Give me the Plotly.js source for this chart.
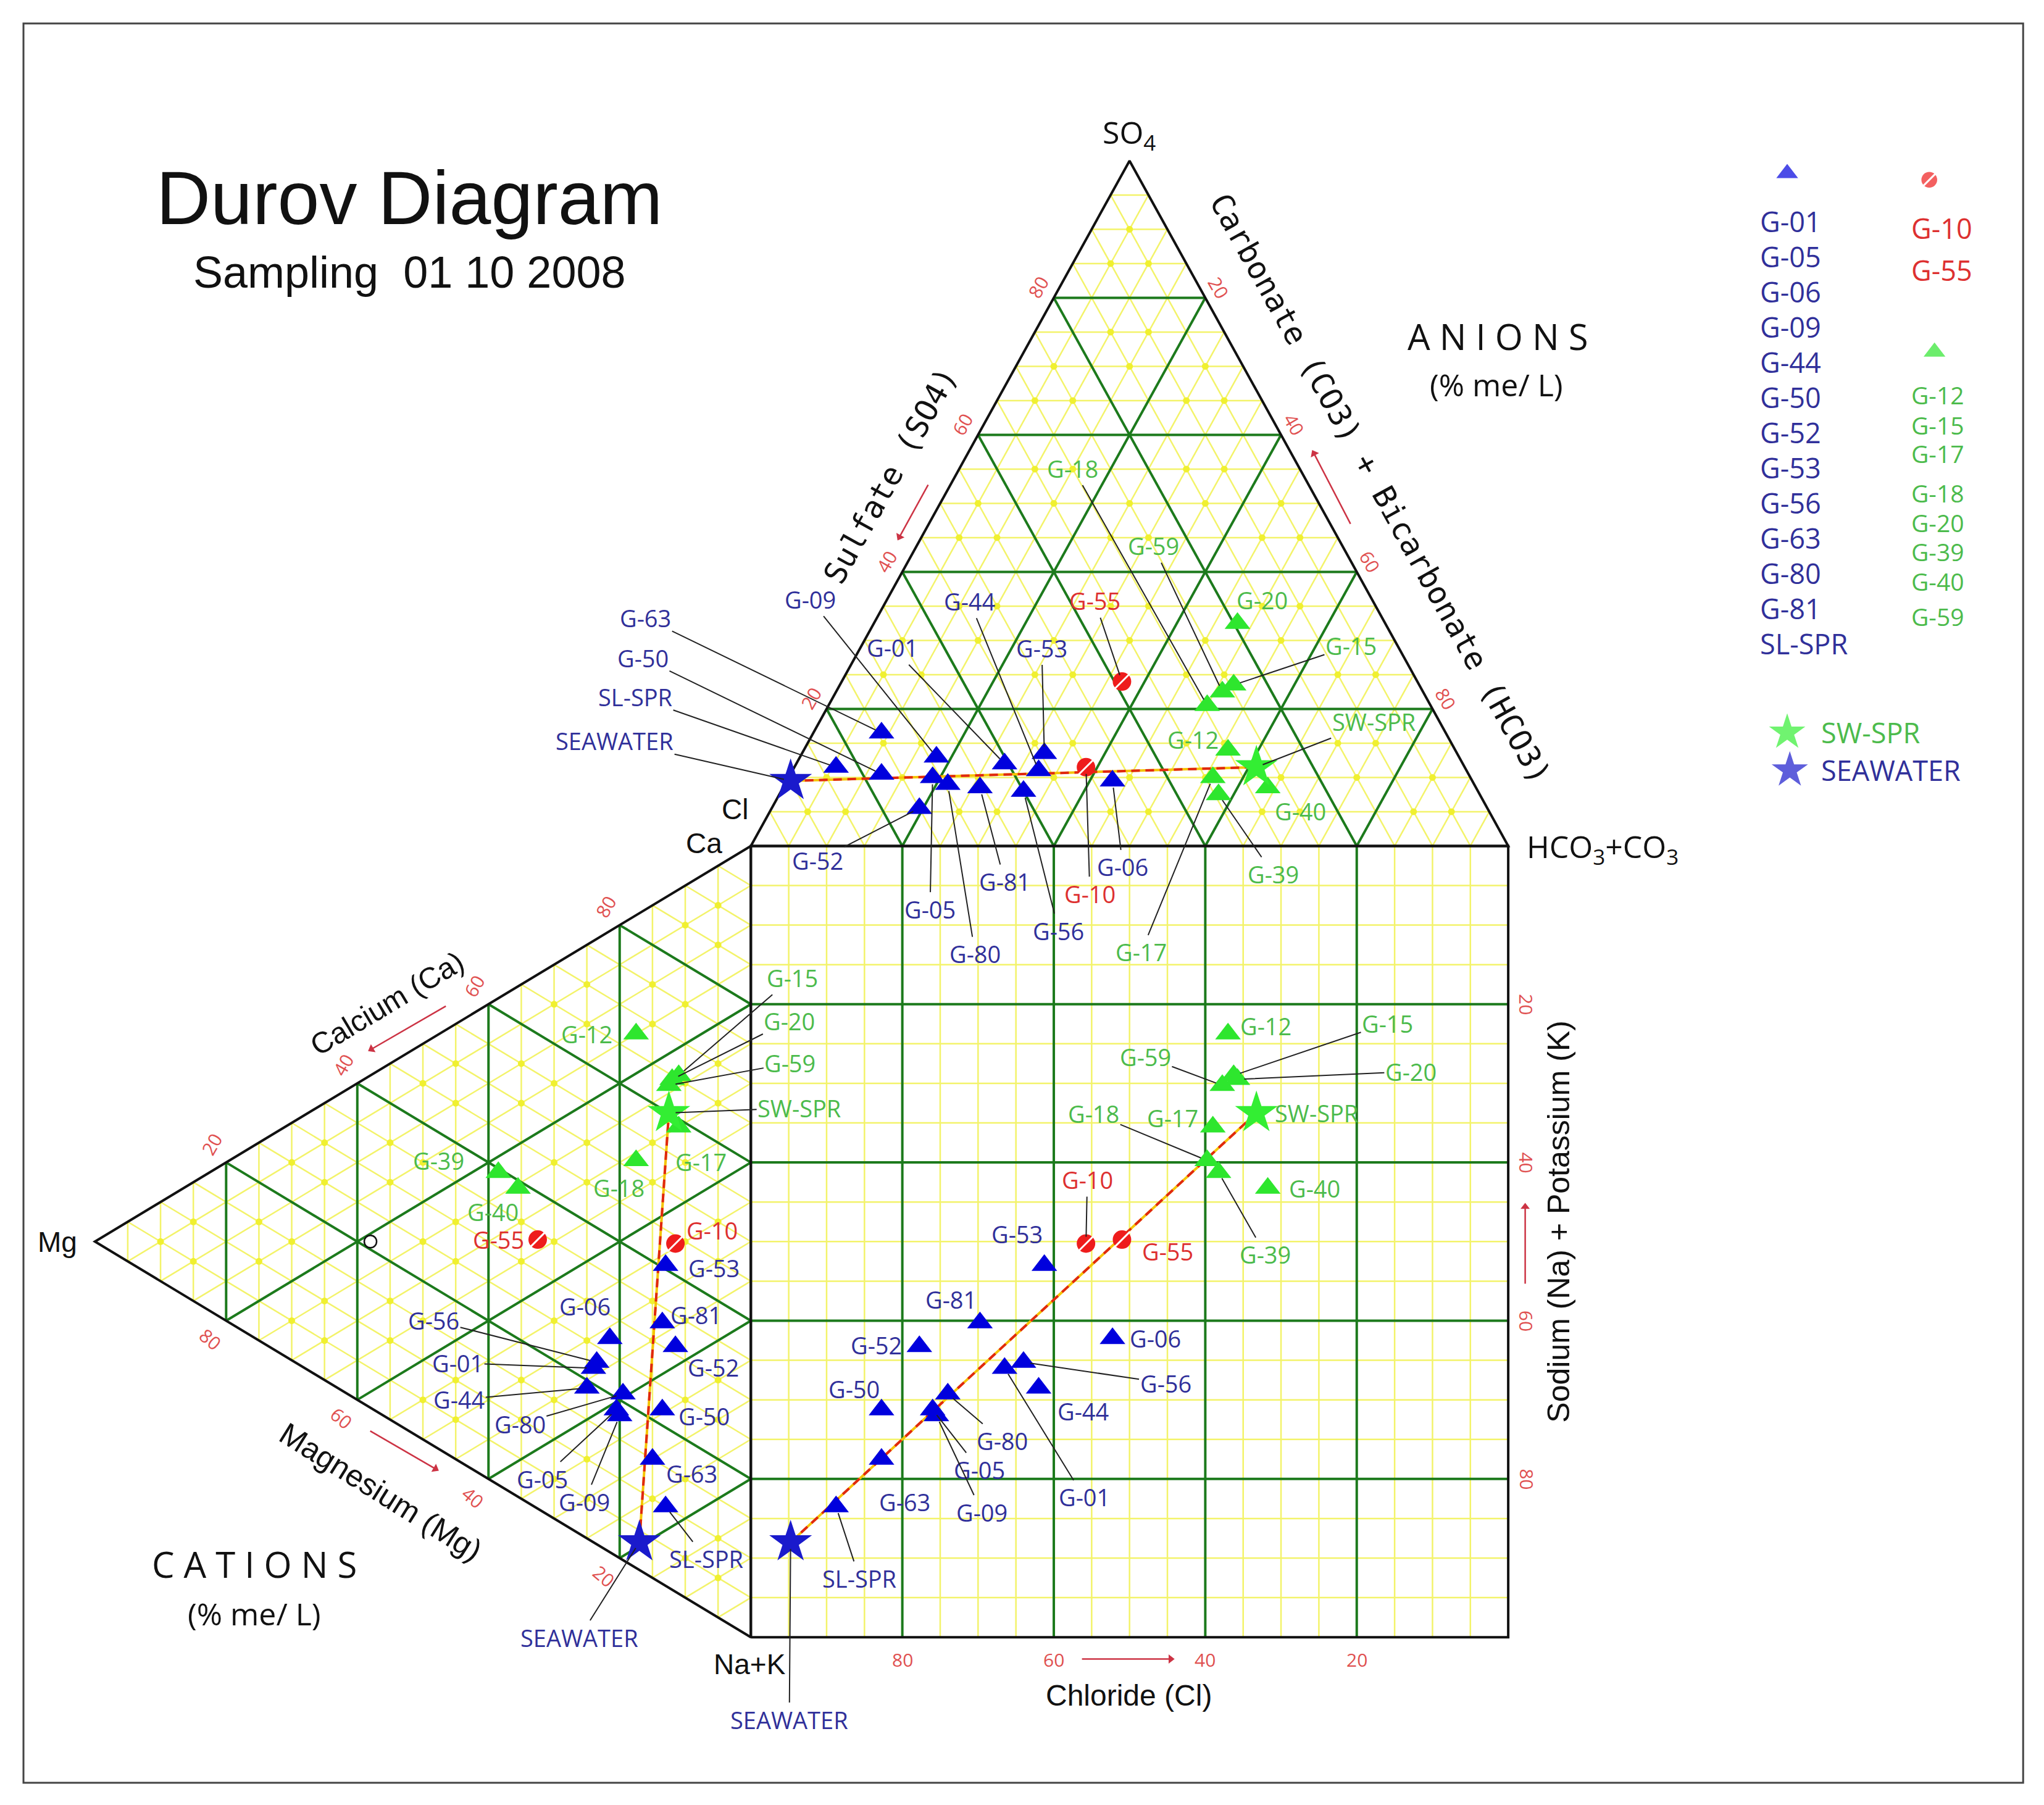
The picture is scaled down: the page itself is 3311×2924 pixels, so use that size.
<!DOCTYPE html>
<html>
<head>
<meta charset="utf-8">
<script src="https://cdn.plot.ly/plotly-3.0.1.min.js"></script>
<style>html,body{margin:0;padding:0;background:#fff}</style>
</head>
<body>
<div id="chart" style="width:3311px;height:2924px"></div>
<script>
// samples, sampling 01 10 2008 (% me/L)
const samples = ['G-01','G-05','G-06','G-09','G-44','G-50','G-52','G-53','G-56','G-63','G-80','G-81','SL-SPR',
                 'G-10','G-55',
                 'G-12','G-15','G-17','G-18','G-20','G-39','G-40','G-59',
                 'SW-SPR','SEAWATER'];
const groups = ['blue','blue','blue','blue','blue','blue','blue','blue','blue','blue','blue','blue','blue',
                'red','red',
                'green','green','green','green','green','green','green','green',
                'swspr','seawater'];

// anions
const clPct   = [60.5, 71, 47.5, 69, 56.5, 77.5, 75, 54.5, 60, 74.5, 69.5, 65.5, 83,   50, 39,   30, 24.5, 34, 29.5, 19.5, 34.5, 27.5, 26.5,   27.5, 90];
const so4Pct  = [12, 10, 9.5, 13, 11, 10.5, 5.5, 13.5, 8, 16.5, 9, 8.5, 11.5,   11.5, 24,   14, 23.5, 10, 20.5, 32.5, 7.5, 8.5, 22.5,   11.5, 9.5];
const hco3Pct = [27.5, 19, 43, 18, 32.5, 12, 19.5, 32, 32, 9, 21.5, 26, 5.5,   38.5, 37,   56, 52, 56, 50, 48, 58, 64, 51,   61, 0.5];

// cations
const caPct  = [22, 18.5, 27, 18, 19, 22, 31, 40.5, 23, 15, 21, 33, 10,   44, 34,   67.5, 65.5, 59, 51.5, 64.5, 39.5, 39, 63.5,   60, 3.5];
const mgPct  = [24, 20.5, 21.5, 20, 25, 13.5, 11.5, 13, 23.5, 15, 19.5, 13.5, 13,   11.5, 32.5,   17.5, 11, 11, 17.5, 12, 38.5, 35.5, 12.5,   12.5, 17];
const nakPct = [54, 61, 51.5, 62, 56, 64.5, 57.5, 46.5, 53.5, 70, 59.5, 53.5, 77,   44.5, 33.5,   15, 23.5, 30, 31, 23.5, 22, 25.5, 24,   27.5, 79.5];

// unlabelled open point in the cation triangle
const extraCa = [21], extraMg = [58], extraNaK = [21];

const tickVals = [20, 40, 60, 80];

// label placement: [dx, dy, leader] in reference px (1568 wide), relative to the point
const labelPos = {
  anion: {
    'G-63':[-181,-88,1], 'G-50':[-183,-89,1], 'SL-SPR':[-154,-54,1], 'SEAWATER':[-135,-31,1],
    'G-09':[-97,-121,1], 'G-01':[-86,-89,1], 'G-44':[-53,-130,1], 'G-53':[-2,-81,1], 'G-55':[-21,-62,1],
    'G-52':[-78,40,1], 'G-05':[-2,101,1], 'G-81':[19,72,1], 'G-80':[21,130,1], 'G-56':[27,107,1],
    'G-10':[3,97,1], 'G-06':[8,66,1], 'G-18':[-103,-182,1], 'G-59':[-53,-112,1], 'G-20':[19,-18,0],
    'G-15':[90,-30,1], 'SW-SPR':[90,-35,1], 'G-12':[-27,-8,0], 'G-40':[25,18,0], 'G-39':[42,61,1], 'G-17':[-55,134,1]
  },
  square: {
    'G-12':[29,-6,0], 'G-15':[118,-40,1], 'G-59':[-59,-22,1], 'G-20':[133,-6,1], 'SW-SPR':[46,0,0],
    'G-18':[-87,-36,1], 'G-17':[-31,-7,0], 'G-40':[36,0,0], 'G-39':[36,63,1], 'G-10':[1,-49,1],
    'G-55':[35,9,0], 'G-53':[-21,-24,0], 'G-81':[-22,-18,0], 'G-06':[33,0,0], 'G-52':[-33,-1,0],
    'G-56':[109,16,1], 'G-50':[-21,-16,0], 'G-44':[34,18,0], 'G-80':[42,36,1], 'G-05':[36,46,1],
    'G-09':[35,74,1], 'G-63':[18,33,0], 'G-01':[61,99,1], 'SL-SPR':[18,55,1], 'SEAWATER':[-1,136,1]
  },
  cation: {
    'G-15':[87,-75,1], 'G-20':[90,-45,1], 'G-59':[93,-17,1], 'SW-SPR':[100,-4,1], 'G-12':[-38,0,0],
    'G-17':[17,27,0], 'G-39':[-46,-9,0], 'G-40':[-19,18,0], 'G-18':[-13,21,0], 'G-55':[-30,0,0],
    'G-10':[28,-10,0], 'G-53':[37,2,0], 'G-06':[-19,-25,0], 'G-81':[26,-6,0], 'G-52':[29,16,0],
    'G-56':[-125,-32,1], 'G-01':[-104,-4,1], 'G-44':[-98,9,1], 'G-80':[-79,23,1], 'G-50':[32,5,0],
    'G-05':[-57,53,1], 'G-09':[-27,66,1], 'G-63':[30,11,0], 'SL-SPR':[31,40,1], 'SEAWATER':[-46,73,1]
  }
};

const groupStyle = {
  blue:     {symbol: 'triangle-up', color: '#0000dd', size: 36, text: '#30309a'},
  red:      {symbol: 'circle',      color: '#ee1c1c', size: 30, text: '#dd3030'},
  green:    {symbol: 'triangle-up', color: '#2ee62e', size: 36, text: '#4cbb4c'},
  swspr:    {symbol: 'star',        color: '#33ee33', size: 52, text: '#4cbb4c'},
  seawater: {symbol: 'star',        color: '#1a1acc', size: 52, text: '#30309a'}
};

const S = 2.1116;                 // reference px -> page px
const H = Math.sqrt(3) / 2;
const anionXY = (cl, so4, hco3) => [hco3 + so4 / 2, 100 + so4 * H];
const cationXY = (ca, mg, nak) => [-mg * H, ca + mg / 2];
const squareXY = i => [hco3Pct[i] + so4Pct[i] / 2, caPct[i] + mgPct[i] / 2];
const fieldXY = {
  anion: i => anionXY(clPct[i], so4Pct[i], hco3Pct[i]),
  square: squareXY,
  cation: i => cationXY(caPct[i], mgPct[i], nakPct[i])
};

// axis ranges so that the square sits where it does in the reference
const PX0 = 576 * S, PY0 = 1256 * S, SX = 5.81 * S, SY = 6.07 * S;
const xRange = [-PX0 / SX, (3311 - PX0) / SX];
const yRange = [(PY0 - 2924) / SY, PY0 / SY];

function segs() { return {x: [], y: []}; }
function addSeg(s, p, q) { s.x.push(p[0], q[0], null); s.y.push(p[1], q[1], null); }

// grid
const yel = segs(), grn = segs(), blk = segs();
for (let k = 5; k < 100; k += 5) {
  const s = k % 20 === 0 ? grn : yel;
  addSeg(s, anionXY(100 - k, k, 0), anionXY(0, k, 100 - k));
  addSeg(s, anionXY(k, 0, 100 - k), anionXY(k, 100 - k, 0));
  addSeg(s, anionXY(100 - k, 0, k), anionXY(0, 100 - k, k));
  addSeg(s, cationXY(100 - k, 0, k), cationXY(0, 100 - k, k));
  addSeg(s, cationXY(k, 0, 100 - k), cationXY(k, 100 - k, 0));
  addSeg(s, cationXY(100 - k, k, 0), cationXY(0, k, 100 - k));
  addSeg(s, [k, 0], [k, 100]);
  addSeg(s, [0, k], [100, k]);
}
const outline = [
  [anionXY(100, 0, 0), anionXY(0, 100, 0), anionXY(0, 0, 100), anionXY(100, 0, 0)],
  [cationXY(100, 0, 0), cationXY(0, 100, 0), cationXY(0, 0, 100), cationXY(100, 0, 0)],
  [[0, 0], [100, 0], [100, 100], [0, 100], [0, 0]]
];
outline.forEach(poly => {
  poly.forEach(p => { blk.x.push(p[0]); blk.y.push(p[1]); });
  blk.x.push(null); blk.y.push(null);
});

const dots = segs();
for (let a = 5; a < 100; a += 5) {
  for (let b = 5; a + b < 100; b += 5) {
    const c = 100 - a - b;
    if (a % 20 && b % 20 && c % 20) {
      const p = anionXY(a, b, c), q = cationXY(a, b, c);
      dots.x.push(p[0], q[0]); dots.y.push(p[1], q[1]);
    }
  }
}

const traces = [
  {x: yel.x, y: yel.y, mode: 'lines', line: {color: '#f3f36a', width: 2.5}},
  {x: dots.x, y: dots.y, mode: 'markers', marker: {color: '#f0f030', size: 11}},
  {x: grn.x, y: grn.y, mode: 'lines', line: {color: '#1c7a1c', width: 4}},
  {x: blk.x, y: blk.y, mode: 'lines', line: {color: '#111', width: 4}}
];

// mixing line seawater -> SW-SPR in each field
const iSea = samples.indexOf('SEAWATER'), iSw = samples.indexOf('SW-SPR');
const mix = segs();
Object.values(fieldXY).forEach(f => addSeg(mix, f(iSea), f(iSw)));
traces.push({x: mix.x, y: mix.y, mode: 'lines', line: {color: '#f5c400', width: 4}});
traces.push({x: mix.x, y: mix.y, mode: 'lines', line: {color: '#e02810', width: 4, dash: '14px,9px'}});

// extra open point
const ex = cationXY(extraCa[0], extraMg[0], extraNaK[0]);
traces.push({x: [ex[0]], y: [ex[1]], mode: 'markers',
  marker: {symbol: 'circle-open', size: 20, color: '#111', line: {width: 2.5}}});

// sample markers
Object.keys(groupStyle).forEach(g => {
  const st = groupStyle[g];
  const xs = [], ys = [];
  samples.forEach((n, i) => {
    if (groups[i] !== g) return;
    Object.values(fieldXY).forEach(f => { const p = f(i); xs.push(p[0]); ys.push(p[1]); });
  });
  traces.push({x: xs, y: ys, mode: 'markers',
    marker: {symbol: st.symbol, size: st.size, color: st.color, line: {width: 0}}});
  if (g === 'red') {
    traces.push({x: xs, y: ys, mode: 'markers',
      marker: {symbol: 'line-ne', size: 26, color: '#fff', line: {color: '#fff', width: 3}}});
  }
});

// point labels
const annotations = [];
const labelFont = {family: 'Open Sans', size: 38};
Object.keys(labelPos).forEach(field => {
  samples.forEach((n, i) => {
    const lp = labelPos[field][n];
    if (!lp) return;
    const p = fieldXY[field](i);
    const font = Object.assign({}, labelFont, {color: groupStyle[groups[i]].text});
    if (lp[2]) {
      annotations.push({x: p[0], y: p[1], xref: 'x', yref: 'y', text: n, font: font,
        showarrow: true, arrowhead: 0, arrowwidth: 2, arrowcolor: '#222',
        ax: lp[0] * S, ay: lp[1] * S, standoff: 11});
    } else {
      annotations.push({x: p[0], y: p[1], xref: 'x', yref: 'y', text: n, font: font,
        showarrow: false, xshift: lp[0] * S, yshift: -lp[1] * S});
    }
  });
});

// tick labels on the edges
const tickFont = {family: 'Open Sans', size: 30, color: '#e05050'};
function tick(p, t, dx, dy, ang) {
  annotations.push({x: p[0], y: p[1], xref: 'x', yref: 'y', text: String(t), font: tickFont,
    showarrow: false, xshift: dx * S, yshift: -dy * S, textangle: ang});
}
tickVals.forEach(t => {
  tick(anionXY(100 - t, t, 0), t, -12, -8, -60);
  tick(anionXY(0, 100 - t, t), t, 10, -8, 60);
  tick(cationXY(t, 100 - t, 0), t, -11, -14, -60);
  tick(cationXY(0, t, 100 - t), t, -12, 14, 40);
  tick([100 - t, 0], t, 0, 17, 0);
  tick([100, 100 - t], t, 14, 0, 90);
});

// texts placed in reference px (x2/y2)
function txt(x, y, text, font, extra) {
  annotations.push(Object.assign({x: x, y: y, xref: 'x2', yref: 'y2', text: text, font: font,
    showarrow: false}, extra || {}));
}
const arial = (size, color) => ({family: 'Liberation Sans, Arial', size: size, color: color || '#111'});
const sans = (size, color) => ({family: 'Open Sans', size: size, color: color || '#111'});
const mono = (size) => ({family: 'DejaVu Sans Mono', size: size, color: '#111'});

txt(314, 152, 'Durov Diagram', arial(122));
txt(314, 209, 'Sampling\u00a0\u00a001 10 2008', arial(72));
txt(1149, 258, 'A N I O N S', sans(58));
txt(1148, 295, '(% me/ L)', sans(50));
txt(195, 1200, 'C A T I O N S', sans(58));
txt(195, 1238, '(% me/ L)', sans(50));

txt(866, 103, 'SO<sub>4</sub>', sans(50));
txt(1170, 651, 'HCO<sub>3</sub>+CO<sub>3</sub>', sans(50), {xanchor: 'left'});
txt(564, 621, 'Cl', arial(46));
txt(540, 647, 'Ca', arial(46));
txt(44, 953, 'Mg', arial(46));
txt(575, 1277, 'Na+K', arial(46));

txt(683, 365, 'Sulfate (SO4)', mono(50), {textangle: -61});
txt(1059, 375, 'Carbonate (CO3) + Bicarbonate (HCO3)', mono(50), {textangle: 61});
txt(297, 770, 'Calcium (Ca)', arial(48), {textangle: -31});
txt(292, 1145, 'Magnesium (Mg)', arial(50), {textangle: 32});
txt(866, 1301, 'Chloride (Cl)', arial(48));
txt(1196, 937, 'Sodium (Na) + Potassium (K)', arial(50), {textangle: -90});

// small red direction arrows (tail -> head) in reference px
const arrowSpec = [[[712, 372], [690, 412]], [[1036, 402], [1008, 348]], [[342, 772], [285, 805]],
                   [[284, 1098], [334, 1127]], [[830, 1273], [898, 1273]], [[1170, 985], [1170, 926]]];
const heads = {x: [], y: [], angle: []};
arrowSpec.forEach(a => {
  traces.push({x: [a[0][0], a[1][0]], y: [a[0][1], a[1][1]], xaxis: 'x2', yaxis: 'y2',
    mode: 'lines', line: {color: '#cc3344', width: 2.5}});
  const dx = a[1][0] - a[0][0], dy = a[1][1] - a[0][1];
  heads.x.push(a[1][0]); heads.y.push(a[1][1]);
  heads.angle.push(Math.atan2(dx, -dy) * 180 / Math.PI);
});
traces.push({x: heads.x, y: heads.y, xaxis: 'x2', yaxis: 'y2', mode: 'markers',
  marker: {symbol: 'triangle-up', size: 13, angle: heads.angle, color: '#cc3344', line: {width: 0}}});

// legend block
const legFont = (g, size) => sans(size || 45, groupStyle[g].text);
const legMarks = {x: [], y: [], symbol: [], color: [], size: []};
function legMark(x, y, g) {
  legMarks.x.push(x); legMarks.y.push(y);
  legMarks.symbol.push(groupStyle[g].symbol); legMarks.color.push(groupStyle[g].color);
  legMarks.size.push(groupStyle[g].size * 0.85);
}
legMark(1371, 133, 'blue');
legMark(1480, 138, 'red');
legMark(1484, 270, 'green');
legMark(1371, 562, 'swspr');
legMark(1373, 591, 'seawater');
const blueNames = samples.filter((n, i) => groups[i] === 'blue');
const redNames = samples.filter((n, i) => groups[i] === 'red');
const greenNames = samples.filter((n, i) => groups[i] === 'green');
const greenY = [303, 326, 348, 378, 401, 423, 446, 473];
blueNames.forEach((n, k) => txt(1349, 170 + k * 27, n, legFont('blue'), {xanchor: 'left'}));
redNames.forEach((n, k) => txt(1465, 175 + k * 32, n, legFont('red'), {xanchor: 'left'}));
greenNames.forEach((n, k) => txt(1465, greenY[k], n, legFont('green', 39), {xanchor: 'left'}));
txt(1396, 562, 'SW-SPR', legFont('swspr'), {xanchor: 'left'});
txt(1396, 591, 'SEAWATER', legFont('seawater'), {xanchor: 'left'});

traces.push({x: legMarks.x, y: legMarks.y, xaxis: 'x2', yaxis: 'y2', mode: 'markers',
  marker: {symbol: legMarks.symbol, color: legMarks.color, size: legMarks.size, line: {width: 0}}});
traces.push({x: [1480], y: [138], xaxis: 'x2', yaxis: 'y2', mode: 'markers',
  marker: {symbol: 'line-ne', size: 22, color: '#fff', line: {color: '#fff', width: 3}}});

traces.forEach(t => { t.type = 'scatter'; t.hoverinfo = 'skip'; t.cliponaxis = false; });

const layout = {
  width: 3311, height: 2924,
  margin: {l: 0, r: 0, t: 0, b: 0},
  paper_bgcolor: '#fff', plot_bgcolor: '#fff',
  showlegend: false, hovermode: false,
  xaxis: {range: xRange, visible: false, fixedrange: true},
  yaxis: {range: yRange, visible: false, fixedrange: true},
  xaxis2: {range: [0, 1568], overlaying: 'x', anchor: 'y2', visible: false, fixedrange: true},
  yaxis2: {range: [1385, 0], overlaying: 'y', anchor: 'x2', visible: false, fixedrange: true},
  shapes: [{type: 'rect', xref: 'x2', yref: 'y2', x0: 18, y0: 18, x1: 1552, y1: 1368,
    line: {color: '#444', width: 3}}],
  annotations: annotations
};

Plotly.newPlot('chart', traces, layout, {staticPlot: true});
</script>
</body>
</html>
